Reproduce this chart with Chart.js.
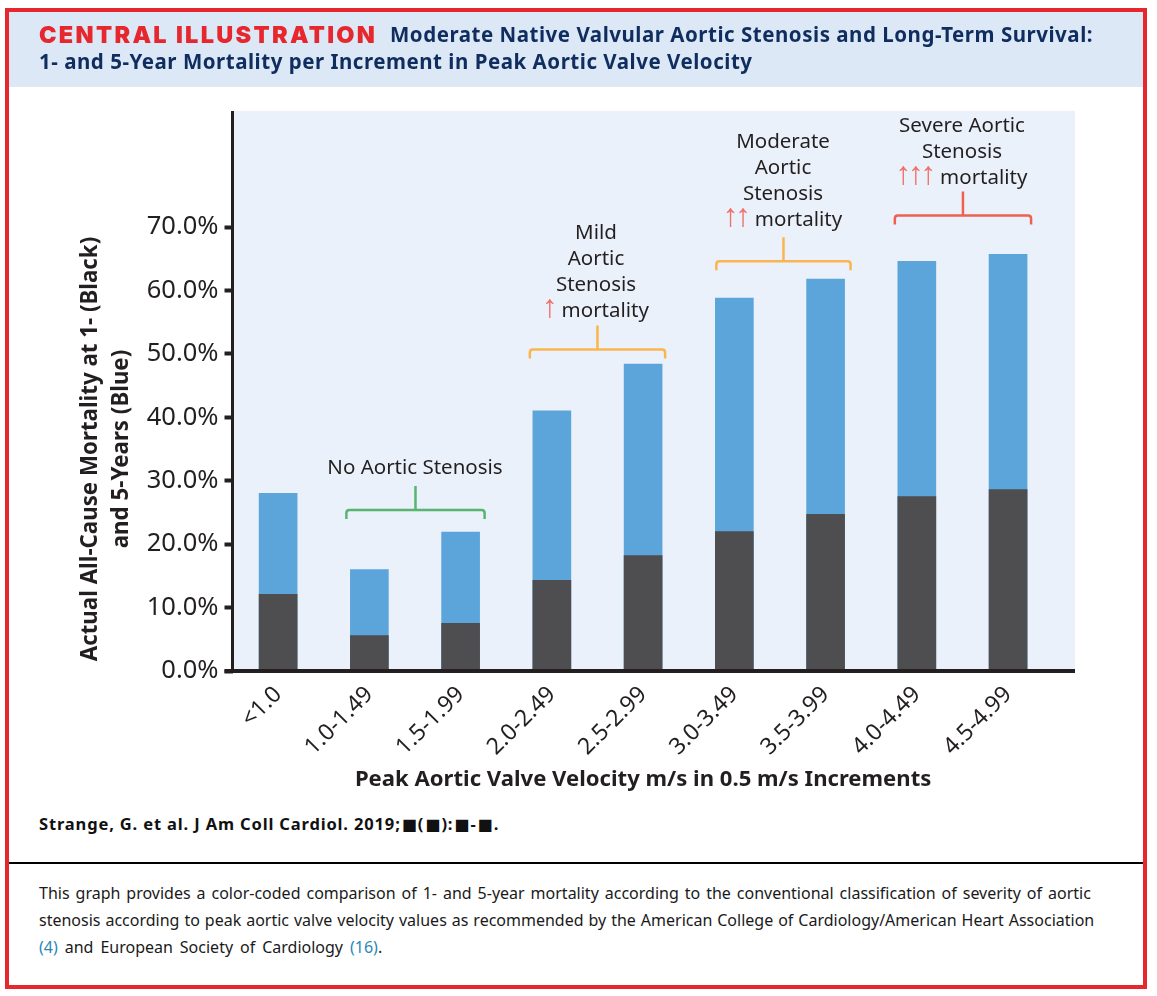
<!DOCTYPE html>
<html>
<head>
<meta charset="utf-8">
<script src="https://cdn.jsdelivr.net/npm/chart.js@4"></script>
<style>
html, body { margin: 0; padding: 0; background: #fff; }
#page { position: relative; width: 1157px; height: 996px; overflow: hidden; font-family: "Noto Sans", sans-serif; }
#frame { position: absolute; left: 5px; top: 8px; width: 1134px; height: 973px; border: 4px solid #e6282e; }
#head { position: absolute; left: 9px; top: 12px; width: 1134px; height: 75px; background: #dde8f7; }
.line { position: absolute; white-space: nowrap; }
.ttl { left: 39px; color: #0f2d5e; font-weight: 700; font-size: 20.5px; letter-spacing: 0.52px; }
.brand { color: #e6282e; font-family: Inter, sans-serif; font-weight: 900; font-size: 23.5px; letter-spacing: 2.3px; }
.cap { left: 39px; color: #1a1a1a; font-size: 16px; }
.cap span { color: #2b87b8; }
.cite { left: 39px; top: 812px; font-size: 16.5px; font-weight: 700; letter-spacing: 0.85px; color: #111; }
.cite b { font-family: "DejaVu Sans", sans-serif; font-size: 16px; letter-spacing: 0; line-height: 1; margin: 0 1px; }
#rule { position: absolute; left: 9px; top: 862px; width: 1134px; height: 2px; background: #000; }
canvas { position: absolute; left: 0; top: 0; }
</style>
</head>
<body>
<div id="page">
  <div id="frame"></div>
  <div id="head"></div>
  <canvas id="chart" width="1157" height="800"></canvas>
  <div class="line brand" style="left:39px;top:20px">CENTRAL ILLUSTRATION</div>
  <div class="line ttl" style="left:390px;top:20px">Moderate Native Valvular Aortic Stenosis and Long-Term Survival:</div>
  <div class="line ttl" style="top:47px">1- and 5-Year Mortality per Increment in Peak Aortic Valve Velocity</div>
  <div class="line cite">Strange, G. et al. J Am Coll Cardiol. 2019;<b>■</b>(<b>■</b>):<b>■</b>-<b>■</b>.</div>
  <div id="rule"></div>
  <div class="line cap" style="top:882px;word-spacing:1.8px">This graph provides a color-coded comparison of 1- and 5-year mortality according to the conventional classification of severity of aortic</div>
  <div class="line cap" style="top:909px;word-spacing:0.8px">stenosis according to peak aortic valve velocity values as recommended by the American College of Cardiology/American Heart Association</div>
  <div class="line cap" style="top:936px;word-spacing:2.8px"><span>(4)</span> and European Society of Cardiology <span>(16)</span>.</div>
</div>
<script>
// values
const categories = ["<1.0", "1.0-1.49", "1.5-1.99", "2.0-2.49", "2.5-2.99", "3.0-3.49", "3.5-3.99", "4.0-4.49", "4.5-4.99"];
const mortality1yr = [12.1, 5.6, 7.5, 14.3, 18.2, 22.0, 24.7, 27.5, 28.6];
const mortality5yr = [28.0, 16.0, 21.9, 41.0, 48.4, 58.8, 61.8, 64.6, 65.7];

// severity groups above the bars
const groups = [
    { from: 1, to: 2, dl: 23, dr: 24, level: 25.4, color: "#58b56f", cx: 415, base: 474, lines: ["No Aortic Stenosis"], arrows: 0, note: "" },
    { from: 3, to: 4, dl: 22, dr: 22, level: 50.7, color: "#fbb54f", cx: 596, base: 239, lines: ["Mild", "Aortic", "Stenosis"], arrows: 1, note: "mortality" },
    { from: 5, to: 6, dl: 18, dr: 25, level: 64.6, color: "#fbb54f", cx: 783, base: 148, lines: ["Moderate", "Aortic", "Stenosis"], arrows: 2, note: "mortality" },
    { from: 7, to: 8, dl: 22, dr: 23, level: 71.8, color: "#f0604f", cx: 962, base: 132, lines: ["Severe Aortic", "Stenosis"], arrows: 3, note: "mortality" },
];

const INK = "#231f20";
const LABEL_FONT = '20.5px "Noto Sans", sans-serif';
const ARROW_FONT = '32px "Liberation Sans", sans-serif';
const ARROW_STEP = 12.5;

// plot background runs past the scales, as in the original figure
const backdrop = {
    id: "backdrop",
    beforeDraw(chart) {
        const { ctx, chartArea: a, scales: { y } } = chart;
        ctx.save();
        ctx.fillStyle = "#eaf1fa";
        ctx.fillRect(a.left, y.getPixelForValue(88.3), 1075 - a.left, a.bottom - y.getPixelForValue(88.3));
        ctx.restore();
    },
    afterDraw(chart) {
        const { ctx, chartArea: a, scales: { y } } = chart;
        ctx.save();
        ctx.strokeStyle = INK;
        ctx.lineWidth = 3;
        ctx.beginPath();
        ctx.moveTo(a.left, y.getPixelForValue(88.3));
        ctx.lineTo(a.left, a.bottom);
        ctx.stroke();
        ctx.lineWidth = 4;
        ctx.beginPath();
        ctx.moveTo(a.left - 8, a.bottom);
        ctx.lineTo(1075, a.bottom);
        ctx.stroke();
        ctx.restore();
    },
};

const brackets = {
    id: "brackets",
    afterDraw(chart) {
        const { ctx, scales: { x, y } } = chart;
        ctx.save();
        groups.forEach((g) => {
            const x0 = x.getPixelForValue(g.from) - g.dl;
            const x1 = x.getPixelForValue(g.to) + g.dr;
            const yy = y.getPixelForValue(g.level);
            const mid = (x0 + x1) / 2;
            ctx.strokeStyle = g.color;
            ctx.lineWidth = 2.5;
            ctx.beginPath();
            ctx.moveTo(x0, yy + 9);
            ctx.lineTo(x0, yy + 3);
            ctx.quadraticCurveTo(x0, yy, x0 + 3, yy);
            ctx.lineTo(x1 - 3, yy);
            ctx.quadraticCurveTo(x1, yy, x1, yy + 3);
            ctx.lineTo(x1, yy + 9);
            ctx.moveTo(mid, yy);
            ctx.lineTo(mid, yy - 24);
            ctx.stroke();

            ctx.font = LABEL_FONT;
            ctx.fillStyle = INK;
            ctx.textAlign = "center";
            ctx.textBaseline = "alphabetic";
            g.lines.forEach((t, i) => ctx.fillText(t, g.cx, g.base + i * 26));
            if (g.arrows) {
                const aw = g.arrows * ARROW_STEP;
                const nw = ctx.measureText(g.note).width;
                const left = g.cx - (aw + 6 + nw) / 2;
                const by = g.base + g.lines.length * 26;
                ctx.textAlign = "left";
                ctx.fillStyle = INK;
                ctx.fillText(g.note, left + aw + 6, by);
                ctx.font = ARROW_FONT;
                ctx.fillStyle = "#f0706a";
                for (let i = 0; i < g.arrows; i++) ctx.fillText("↑", left + i * ARROW_STEP - 1, by);
            }
        });
        ctx.restore();
    },
};

new Chart(document.getElementById("chart").getContext("2d"), {
    type: "bar",
    data: {
        labels: categories,
        datasets: [
            { label: "1-year", data: mortality1yr, backgroundColor: "#4e4d4f", order: 0 },
            { label: "5-year", data: mortality5yr, backgroundColor: "#5ca5db", order: 1 },
        ],
    },
    options: {
        responsive: false,
        animation: false,
        devicePixelRatio: 1,
        layout: { padding: { top: 227, right: 103.3, left: 0, bottom: 7 } },
        datasets: { bar: { grouped: false, barThickness: 38 } },
        plugins: { legend: { display: false }, tooltip: { enabled: false } },
        scales: {
            x: {
                grid: { display: false },
                border: { display: false },
                ticks: { color: INK, font: { size: 23, family: '"Noto Sans", sans-serif' }, minRotation: 45, maxRotation: 45, padding: 2, autoSkip: false },
                title: { display: true, text: "Peak Aortic Valve Velocity m/s in 0.5 m/s Increments", color: INK, font: { size: 22.1, weight: "bold", family: '"Noto Sans", sans-serif' }, padding: 0 },
                afterFit(scale) { scale.height = 122; },
            },
            y: {
                min: 0,
                max: 70,
                grid: { drawOnChartArea: false, drawTicks: true, tickLength: 8, tickColor: INK, tickWidth: 4 },
                border: { display: false },
                ticks: { stepSize: 10, color: INK, padding: 6, font: { size: 25.5, family: '"Noto Sans", sans-serif' }, callback: (v) => v.toFixed(1) + "%" },
                title: { display: true, text: ["Actual All-Cause Mortality at 1- (Black)", "and 5-Years (Blue)"], color: INK, font: { size: 22.3, weight: "bold", family: '"Noto Sans", sans-serif', lineHeight: 1.35 }, padding: { top: 76, bottom: 0 } },
                afterFit(scale) { scale.width = 232.5; },
            },
        },
    },
    plugins: [backdrop, brackets],
});
</script>
</body>
</html>
